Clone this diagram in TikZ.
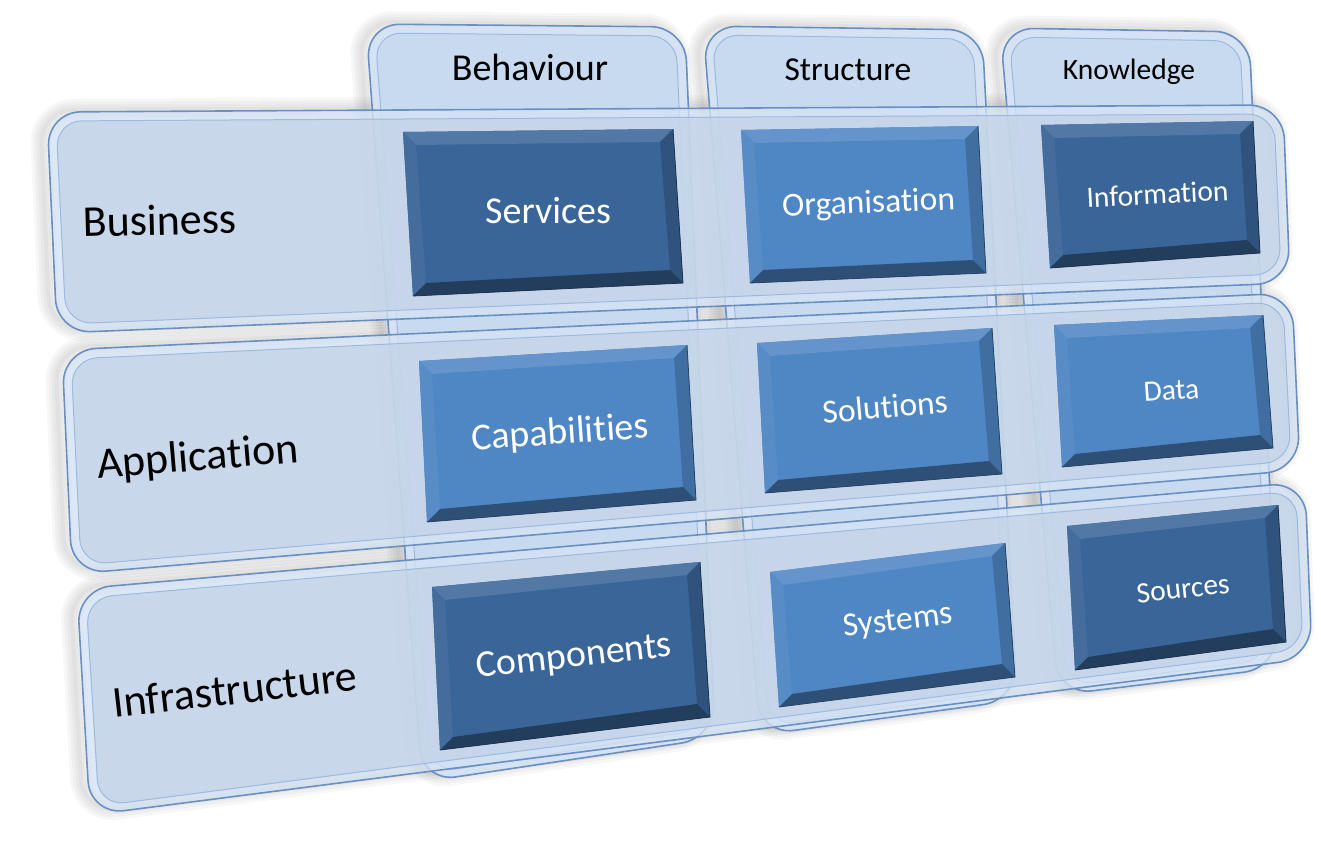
\documentclass[tikz,border=0pt]{standalone}
\usepackage{fontspec}
\setmainfont{Carlito}[Ligatures=CommonOff]
\usetikzlibrary{calc}

\definecolor{rimblue}{HTML}{D4E2F4}
\definecolor{edgeblue}{HTML}{6A90C2}
\definecolor{lineblue}{HTML}{9DB9DE}
\definecolor{tabface}{HTML}{C8DAF0}
\definecolor{bandface}{HTML}{C3D3E7}
\definecolor{darktile}{HTML}{3A6599}
\definecolor{midtile}{HTML}{4F86C4}

\tikzset{
  rowlabel/.style={font=\fontsize{44}{50}\selectfont, text=black, inner sep=0pt, anchor=base west},
  collabel/.style={text=black, inner sep=0pt, anchor=base},
  tilelabel/.style={text=white, inner sep=0pt, anchor=base},
  colA/.style={font=\fontsize{38}{42}\selectfont},
  colB/.style={font=\fontsize{33.5}{38}\selectfont},
  colC/.style={font=\fontsize{29.5}{34}\selectfont},
}

% soft shadow of a panel: corners TL, TR, BR, BL
\newcommand{\panelshadow}[4]{%
  \begin{scope}[shift={(-7,-2)}]
    \foreach \w in {4,10,16,22}
      \draw[black, draw opacity=0.03, line width=\w, rounded corners=34] (#1) -- (#2) -- (#3) -- (#4) -- cycle;
  \end{scope}
}

% rounded panel with a light rim: corners TL, TR, BR, BL; face colour; opacity
\newcommand{\panel}[6]{%
  \filldraw[fill=rimblue, draw=edgeblue, line width=1.6, fill opacity=#6, rounded corners=34]
    (#1) -- (#2) -- (#3) -- (#4) -- cycle;
  \filldraw[fill=#5, draw=lineblue, line width=1, fill opacity=#6, rounded corners=26]
    ($(#1)+(9,9)$) -- ($(#2)+(-9,9)$) -- ($(#3)+(-9,-9)$) -- ($(#4)+(9,-9)$) -- cycle;
}

% bevelled tile: corners TL, TR, BR, BL; colour
\newcommand{\tile}[5]{%
  \fill[#5] (#1) -- (#2) -- (#3) -- (#4) -- cycle;
  \fill[#5!88!white] (#1) -- (#2) -- ($(#2)+(-13,13)$) -- ($(#1)+(13,13)$) -- cycle;
  \fill[#5!95!white] (#1) -- ($(#1)+(13,13)$) -- ($(#4)+(13,-13)$) -- (#4) -- cycle;
  \fill[#5!82!black] (#2) -- (#3) -- ($(#3)+(-13,-13)$) -- ($(#2)+(-13,13)$) -- cycle;
  \fill[#5!60!black] (#4) -- ($(#4)+(13,-13)$) -- ($(#3)+(-13,-13)$) -- (#3) -- cycle;
  \draw[#5!50!black, line width=0.8] (#4) -- (#3) -- (#2);
}

\begin{document}
\begin{tikzpicture}[x=1pt,y=-1pt]
\useasboundingbox (0,0) rectangle (1321,851);

	% shadows
	\panelshadow{366,24}{685,27}{715,738}{422,782}
	\panelshadow{703,26}{982,30}{1017,700}{760,735}
	\panelshadow{1000,28}{1249,32}{1278,668}{1058,695}
	\panelshadow{47,112}{1283,105}{1290,283}{57,333}
	\panelshadow{62,350}{1292,293}{1300,470}{72,574}
	\panelshadow{77,589}{1305,482}{1312,658}{90,815}

	% columns (behind)
	\panel{366,24}{685,27}{715,738}{422,782}{tabface}{1}
	\panel{703,26}{982,30}{1017,700}{760,735}{tabface}{1}
	\panel{1000,28}{1249,32}{1278,668}{1058,695}{tabface}{1}

	% rows
	\panel{47,112}{1283,105}{1290,283}{57,333}{bandface}{0.78}
	\panel{62,350}{1292,293}{1300,470}{72,574}{bandface}{0.78}
	\panel{77,589}{1305,482}{1312,658}{90,815}{bandface}{0.78}

	% tiles
	\tile{403,132}{673,129}{683,283}{413,296}{darktile}
	\tile{741,130}{978,126}{986,273}{750,283}{midtile}
	\tile{1041,125}{1253,121}{1260,253}{1050,268}{darktile}

	\tile{419,361}{687,345}{696,500}{427,522}{midtile}
	\tile{757,343}{992,328}{1002,474}{765,493}{midtile}
	\tile{1054,325}{1263,315}{1273,448}{1062,467}{midtile}

	\tile{432,587}{700,562}{710,717}{440,750}{darktile}
	\tile{770,572}{1005,543}{1015,677}{779,707}{midtile}
	\tile{1067,526}{1278,505}{1286,642}{1075,670}{darktile}

	% headers
	\node[collabel, colA] (behaviour) at (530,80) {Behaviour};
	\node[collabel, colB] (structure) at (848,80) {Structure};
	\node[collabel, colC] (knowledge) at (1129,79) {Knowledge};

	% row labels
	\node[rowlabel, rotate=1.5] (business) at (83,237) {Business};
	\node[rowlabel, rotate=4.8] (application) at (98,479) {Application};
	\node[rowlabel, rotate=6.5] (infrastructure) at (114,718) {Infrastructure};

	% tile labels
	\node[tilelabel, colA] (services) at (548,223) {Services};
	\node[tilelabel, colB, rotate=2.5] (organisation) at (869,213) {Organisation};
	\node[tilelabel, colC, rotate=3] (information) at (1158,204) {Information};
	\node[tilelabel, colA, rotate=4] (capabilities) at (561,444) {Capabilities};
	\node[tilelabel, colB, rotate=5] (solutions) at (886,418) {Solutions};
	\node[tilelabel, colC, rotate=4] (data) at (1172,400) {Data};
	\node[tilelabel, colA, rotate=6.4] (components) at (575,667) {Components};
	\node[tilelabel, colB, rotate=6.9] (systems) at (899,630) {Systems};
	\node[tilelabel, colC, rotate=6.2] (sources) at (1184,598) {Sources};
\end{tikzpicture}
\end{document}
